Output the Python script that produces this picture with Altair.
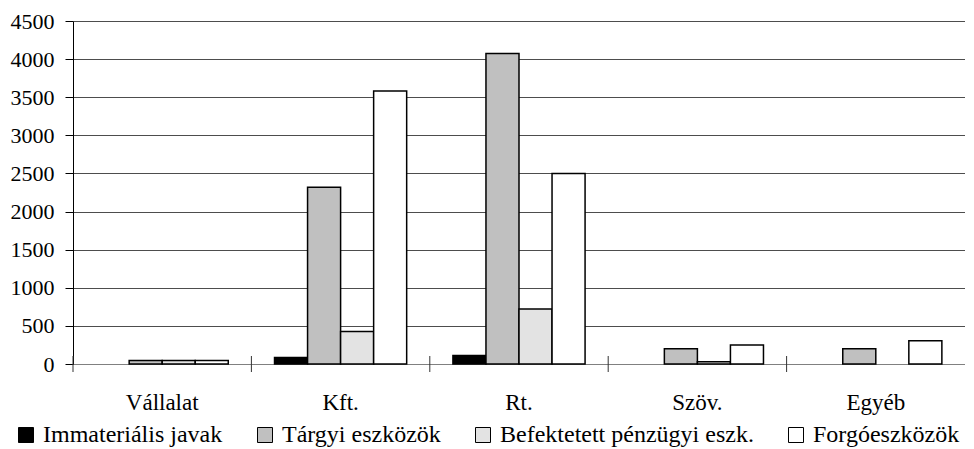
import altair as alt
import pandas as pd

categories = ["Vállalat", "Kft.", "Rt.", "Szöv.", "Egyéb"]
series = ["Immateriális javak", "Tárgyi eszközök", "Befektetett pénzügyi eszk.", "Forgóeszközök"]
immaterialis = [0, 85, 110, 0, 0]
targyi = [45, 2320, 4075, 200, 200]
befektetett = [45, 425, 720, 30, 0]
forgo = [45, 3580, 2500, 250, 305]
colors = ["#000000", "#C0C0C0", "#E3E3E3", "#FFFFFF"]
y_ticks = list(range(0, 4501, 500))

rows = []
for s, vals in zip(series, [immaterialis, targyi, befektetett, forgo]):
    for c, v in zip(categories, vals):
        rows.append({"Kategória": c, "Sorozat": s, "Érték": v})
df = pd.DataFrame(rows)
cat_df = pd.DataFrame({"Kategória": categories})

FONT = "Liberation Serif"
W, H = 892, 343

x_enc = alt.X("Kategória:N", sort=categories, scale=alt.Scale(paddingInner=0, paddingOuter=0),
              axis=alt.Axis(title=None, labelAngle=0, ticks=False, labelPadding=27,
                            domainColor="#808080", domainWidth=1, labelFontSize=23,
                            labelFont=FONT, labelColor="#000000"))

bars = alt.Chart(df).transform_filter(alt.datum["Érték"] > 0).mark_bar(
    stroke="#000000", strokeWidth=1.5
).encode(
    x=x_enc,
    xOffset=alt.XOffset("Sorozat:N", sort=series,
                        scale=alt.Scale(paddingInner=0, paddingOuter=0.70)),
    y=alt.Y("Érték:Q", scale=alt.Scale(domain=[0, 4500], nice=False),
            axis=alt.Axis(title=None, values=y_ticks, format="d", tickSize=8,
                          tickColor="#000000", domainColor="#000000",
                          gridColor="#4d4d4d", grid=True, gridWidth=1,
                          labelPadding=11, labelFontSize=22, labelFont=FONT,
                          labelColor="#000000")),
    color=alt.Color("Sorozat:N", sort=series,
                    scale=alt.Scale(domain=series, range=colors),
                    legend=alt.Legend(title=None, orient="none", direction="horizontal",
                                      columns=4, legendX=-59, legendY=402,
                                      symbolType="square", symbolSize=225,
                                      symbolStrokeColor="#000000", symbolStrokeWidth=1,
                                      labelFontSize=24, labelFont=FONT, labelOffset=5,
                                      labelColor="#000000",
                                      columnPadding=30, labelLimit=400)),
)

ticks = alt.Chart(cat_df).mark_rule(color="#333333", strokeWidth=1).encode(
    x=alt.X("Kategória:N", sort=categories, bandPosition=0),
    y=alt.value(H - 8),
    y2=alt.value(H + 8),
)

chart = alt.layer(bars, ticks).properties(
    width=W, height=H, background="white",
    padding={"left": 2, "top": 2, "right": 0, "bottom": 0},
).configure_view(stroke=None)

chart.save("out.html", embed_options={"renderer": "svg", "actions": False})
